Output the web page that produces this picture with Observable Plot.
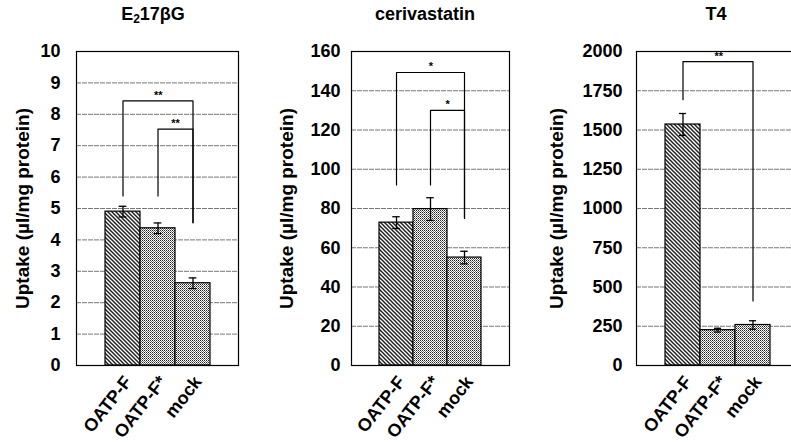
<!DOCTYPE html>
<html><head><meta charset="utf-8">
<script src="https://cdn.jsdelivr.net/npm/d3@7"></script>
<script src="https://cdn.jsdelivr.net/npm/@observablehq/plot@0.6"></script>
<style>
html,body{margin:0;padding:0;background:#fff;width:791px;height:442px;overflow:hidden;}
#wrap{position:relative;width:791px;height:442px;overflow:hidden;}
.panel{position:absolute;top:0;}
.title{position:absolute;top:4px;height:40px;line-height:40px;text-align:center;white-space:nowrap;
  font:bold 18px "Liberation Sans",Arial,Helvetica,sans-serif;color:#000;}
.title sub{font-size:12px;vertical-align:-3px;line-height:0;}
</style>
</head><body>
<svg width="0" height="0" style="position:absolute">
<defs>
<pattern id="hatch" patternUnits="userSpaceOnUse" width="4" height="4">
<rect width="4" height="4" fill="#fff"/>
<path d="M-1,-1 L5,5 M-1,3 L1,5 M3,-1 L5,1" stroke="#222" stroke-width="1.5"/>
</pattern>
<pattern id="dots" patternUnits="userSpaceOnUse" width="2" height="2">
<rect width="2" height="2" fill="#fff"/>
<rect width="1" height="1" fill="#222"/>
<rect x="1" y="1" width="1" height="1" fill="#777"/>
</pattern>
</defs></svg>
<div id="wrap"></div>
<script>
const categories = ["OATP-F", "OATP-F*", "mock"];

const e2Values = [4.9, 4.37, 2.62];
const e2Errors = [0.17, 0.17, 0.17];
const e2Ticks = [0, 1, 2, 3, 4, 5, 6, 7, 8, 9, 10];
const e2Brackets = [
  {from: "OATP-F", to: "mock", top: 8.43, leftEnd: 5.4, rightEnd: 4.55, label: "**"},
  {from: "OATP-F*", to: "mock", top: 7.53, leftEnd: 5.4, rightEnd: 4.55, label: "**"}
];

const ceriValues = [72.8, 79.7, 55.0];
const ceriErrors = [3.0, 5.8, 3.2];
const ceriTicks = [0, 20, 40, 60, 80, 100, 120, 140, 160];
const ceriBrackets = [
  {from: "OATP-F", to: "mock", top: 149.3, leftEnd: 92, rightEnd: 75, label: "*"},
  {from: "OATP-F*", to: "mock", top: 130, leftEnd: 92, rightEnd: 75, label: "*"}
];

const t4Values = [1535, 225, 258];
const t4Errors = [70, 12, 27];
const t4Ticks = [0, 250, 500, 750, 1000, 1250, 1500, 1750, 2000];
const t4Brackets = [
  {from: "OATP-F", to: "mock", top: 1935, leftEnd: 1693, rightEnd: 411, label: "**"}
];

const yLabel = "Uptake (µl/mg protein)";
const font = '"Liberation Sans", Arial, Helvetica, sans-serif';

function panel(cfg) {
  const {values, errors, ticks, brackets, left, width, marginLeft, marginRight, padOuter, tickPadding, labelDx, titleHTML, titleCenter} = cfg;
  const data = categories.map((c, i) => ({cat: c, v: values[i], e: errors[i], i}));
  const innerW = width - marginLeft - marginRight;
  const bw = innerW / (categories.length + 2 * padOuter);
  const capInset = bw / 2 - 4;
  const lines = brackets.flatMap((b, k) => [
    {k, x: b.from, y: b.leftEnd}, {k, x: b.from, y: b.top},
    {k, x: b.to, y: b.top}, {k, x: b.to, y: b.rightEnd}
  ]);
  const starMarks = brackets.map(b => Plot.text([b], {
    x: "from", y: "top", text: "label",
    dx: (categories.indexOf(b.to) - categories.indexOf(b.from)) * bw / 2,
    dy: -2, fontSize: 11, lineAnchor: "bottom", textAnchor: "middle"
  }));
  const plot = Plot.plot({
    width, height: 442, marginLeft, marginRight, marginTop: 51, marginBottom: 77,
    style: {fontFamily: font, fontWeight: "bold", fontSize: "18px", color: "#000", background: "transparent", overflow: "visible"},
    x: {domain: categories, paddingInner: 0, paddingOuter: padOuter, align: 0.5},
    y: {domain: [ticks[0], ticks[ticks.length - 1]], axis: null},
    marks: [
      Plot.ruleY(ticks.slice(1, -1), {stroke: "#777", strokeWidth: 1, strokeDasharray: "5,1"}),
      Plot.barY(data.filter(d => d.i === 0), {x: "cat", y: "v", fill: "url(#hatch)", stroke: "#000", strokeWidth: 1.2}),
      Plot.barY(data.filter(d => d.i !== 0), {x: "cat", y: "v", fill: "url(#dots)", stroke: "#000", strokeWidth: 1.2}),
      Plot.ruleX(data, {x: "cat", y1: d => d.v - d.e, y2: d => d.v + d.e, stroke: "#000", strokeWidth: 1.3}),
      Plot.tickY(data, {x: "cat", y: d => d.v + d.e, insetLeft: capInset, insetRight: capInset, stroke: "#000", strokeWidth: 1.3}),
      Plot.tickY(data, {x: "cat", y: d => d.v - d.e, insetLeft: capInset, insetRight: capInset, stroke: "#000", strokeWidth: 1.3}),
      Plot.line(lines, {x: "x", y: "y", z: "k", stroke: "#000", strokeWidth: 1.2}),
      ...starMarks,
      Plot.frame({stroke: "#000", strokeWidth: 1.2}),
      Plot.axisY(ticks, {tickSize: 0, tickPadding, label: null, fontSize: 18, tickFormat: d => String(d)}),
      Plot.text([yLabel], {text: d => d, frameAnchor: "left", rotate: -90, textAnchor: "middle", lineAnchor: "bottom", dx: labelDx, fontSize: 19}),
      Plot.axisX({tickRotate: -52, tickSize: 0, tickPadding: 4, label: null, fontSize: 18, textAnchor: "end", dx: 5, dy: 9})
    ]
  });
  const div = document.createElement("div");
  div.className = "panel";
  div.style.left = left + "px";
  div.style.width = width + "px";
  div.style.height = "442px";
  div.appendChild(plot);
  const t = document.createElement("div");
  t.className = "title";
  t.innerHTML = titleHTML;
  t.style.left = (titleCenter - left - 100) + "px";
  t.style.width = "200px";
  div.appendChild(t);
  document.getElementById("wrap").appendChild(div);
}

panel({values: e2Values, errors: e2Errors, ticks: e2Ticks, brackets: e2Brackets,
  left: 0, width: 250, marginLeft: 76, marginRight: 12, padOuter: 0.8, tickPadding: 16, labelDx: -48,
  titleHTML: "E<sub>2</sub>17βG", titleCenter: 153});
panel({values: ceriValues, errors: ceriErrors, ticks: ceriTicks, brackets: ceriBrackets,
  left: 262, width: 258, marginLeft: 89, marginRight: 11, padOuter: 0.79, tickPadding: 11, labelDx: -59,
  titleHTML: "cerivastatin", titleCenter: 425});
panel({values: t4Values, errors: t4Errors, ticks: t4Ticks, brackets: t4Brackets,
  left: 530, width: 280, marginLeft: 106, marginRight: 12, padOuter: 0.76, tickPadding: 14, labelDx: -74,
  titleHTML: "T4", titleCenter: 716});
</script>
</body></html>
